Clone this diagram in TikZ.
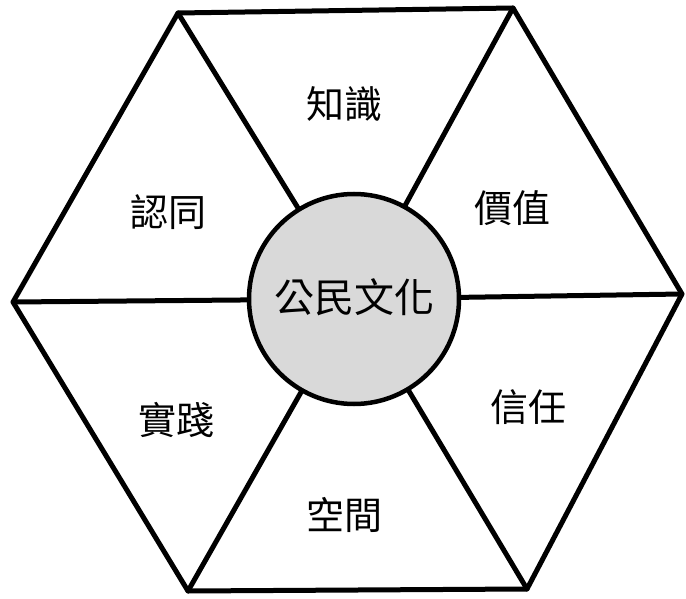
\documentclass[tikz,border=0pt]{standalone}
\usepackage{fontspec}
\newfontfamily\cjk{Noto Sans CJK TC}
\definecolor{hubgray}{HTML}{D9D9D9}
\begin{document}
\begin{tikzpicture}[x=1pt,y=-1pt,
  edge/.style={line width=5pt,line join=round,line cap=round},
  hub/.style={circle,draw,line width=4.5pt,fill=hubgray,minimum size=210pt,inner sep=0pt},
  lbl/.style={font=\cjk\fontsize{38}{38}\selectfont,inner sep=0pt}]
\useasboundingbox (0,0) rectangle (686,599);
\coordinate (c) at (354,299);
\coordinate (tl) at (178,13);
\coordinate (tr) at (513,8);
\coordinate (r) at (682,294);
\coordinate (br) at (527,589);
\coordinate (bl) at (188,591);
\coordinate (l) at (13,302);
\draw[edge] (tl) -- (tr) -- (r) -- (br) -- (bl) -- (l) -- cycle;
\foreach \v in {tl,tr,r,br,bl,l} \draw[edge] (c) -- (\v);
\node[hub] (h) at (c) {};
\node[lbl] (t0) at (354,297) {\fontsize{40}{40}\selectfont 公民文化};
\node[lbl] (t1) at (344,104) {知識};
\node[lbl] (t2) at (512,208) {價值};
\node[lbl] (t3) at (168,212) {認同};
\node[lbl] (t4) at (528,407) {信任};
\node[lbl] (t5) at (176,420) {實踐};
\node[lbl] (t6) at (344,515) {空間};
\end{tikzpicture}
\end{document}
